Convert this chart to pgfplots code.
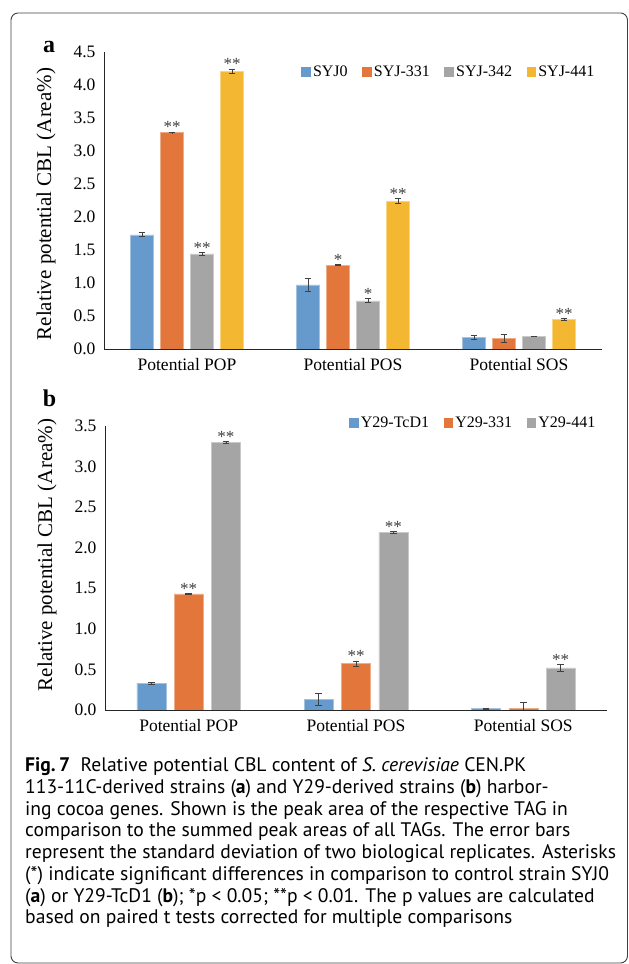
\documentclass[border=0pt]{standalone}
\usepackage{fontspec}
\setmainfont{Liberation Serif}
\newfontfamily\capfont{PT Sans}
\usepackage{pgfplots}
\pgfplotsset{compat=1.18}
\usepackage{pgfplotstable}

\definecolor{cblue}{HTML}{6699CC}
\definecolor{corange}{HTML}{E3763A}
\definecolor{cgray}{HTML}{A5A5A5}
\definecolor{cyellow}{HTML}{F4B731}
\definecolor{errc}{HTML}{404040}

% panel a: CEN.PK strains
\pgfplotstableread{
x y e lab
1 1.73 0.03 {}
2 0.97 0.10 {}
3 0.17 0.03 {}
}\aSYJzero
\pgfplotstableread{
x y e lab
1 3.28 0.005 **
2 1.27 0.005 *
3 0.16 0.06 {}
}\aSYJthree
\pgfplotstableread{
x y e lab
1 1.44 0.02 **
2 0.73 0.03 *
3 0.19 0.005 {}
}\aSYJthreefour
\pgfplotstableread{
x y e lab
1 4.21 0.03 **
2 2.24 0.04 **
3 0.45 0.01 **
}\aSYJfour

% panel b: Y29 strains
\pgfplotstableread{
x y e lab
1 0.33 0.01 {}
2 0.13 0.07 {}
3 0.016 0.005 {}
}\bTcD
\pgfplotstableread{
x y e lab
1 1.43 0.005 **
2 0.57 0.035 **
3 0.016 0.08 {}
}\bthree
\pgfplotstableread{
x y e lab
1 3.30 0.01 **
2 2.19 0.01 **
3 0.52 0.04 **
}\bfour

\pgfplotsset{
  cblaxis/.style={
    ybar, scale only axis, enlargelimits=false,
    xmin=0.5, xmax=3.5, ymin=0,
    axis x line*=bottom, axis y line*=left,
    axis line style={-, black!85, line width=0.9pt},
    xtick={1,2,3},
    xticklabels={Potential POP, Potential POS, Potential SOS},
    major tick length=0pt,
    /pgf/number format/fixed, /pgf/number format/fixed zerofill,
    /pgf/number format/precision=1, /pgf/number format/assume math mode=true,
    ticklabel style={font=\fontsize{17.5}{18}\selectfont},
    yticklabel style={xshift=-5pt},
    xticklabel style={yshift=-6pt},
    ylabel={Relative potential CBL (Area\%)},
    ylabel style={font=\fontsize{21}{22}\selectfont, anchor=center},
    nodes near coords, point meta=explicit symbolic,
    visualization depends on={\thisrow{e} \as \myerr},
    nodes near coords style={font=\fontsize{17}{17}\selectfont, text=errc, inner sep=0pt},
    legend columns=-1,
    legend style={draw=none, fill=none, inner sep=0pt, anchor=east,
      font=\fontsize{16}{16}\selectfont, nodes={inner sep=2.5pt},
      /tikz/every even column/.append style={column sep=12pt}},
  },
  cblbar/.style={fill=#1, draw=#1!60!white, line width=0.6pt,
    legend image code/.code={\fill[#1] (0pt,-4.3pt) rectangle (8.6pt,4.3pt);},
    error bars/.cd, y dir=both, y explicit,
    error bar style={errc, line width=0.8pt},
    error mark options={errc, rotate=90, mark size=3.3pt, line width=0.8pt}},
}

\begin{document}
\begin{tikzpicture}[x=1pt, y=1pt]
\useasboundingbox (0,0) rectangle (629,964);
\draw[black!75, line width=0.9pt, rounded corners=7pt] (11,1) rectangle (627.5,951);

\node[font=\fontsize{24}{24}\selectfont\bfseries] at (49,917) {a};
\node[font=\fontsize{24}{24}\selectfont\bfseries] at (49.5,566) {b};

\begin{axis}[cblaxis,
  at={(104pt,615pt)}, anchor=south west,
  width=498pt, height=297pt,
  ymax=4.5, ytick={0,0.5,...,4.5},
  bar width=23.5pt, ybar=6.5pt,
  every node near coord/.append style={yshift=\myerr*66pt-1pt},
  ylabel style={at={(rel axis cs:-0.1165,0.488)}},
  legend style={at={(0.99,0.933)}},
]
\addplot[cblbar=cblue] table[x=x, y=y, y error=e, meta=lab] {\aSYJzero};
\addplot[cblbar=corange] table[x=x, y=y, y error=e, meta=lab] {\aSYJthree};
\addplot[cblbar=cgray] table[x=x, y=y, y error=e, meta=lab] {\aSYJthreefour};
\addplot[cblbar=cyellow] table[x=x, y=y, y error=e, meta=lab] {\aSYJfour};
\legend{SYJ0, SYJ-331, SYJ-342, SYJ-441}
\end{axis}

\begin{axis}[cblaxis,
  at={(105pt,254pt)}, anchor=south west,
  width=502pt, height=284pt,
  ymax=3.5, ytick={0,0.5,...,3.5},
  bar width=29pt, ybar=8.3pt,
  every node near coord/.append style={yshift=\myerr*81.14pt-1pt},
  ylabel style={at={(rel axis cs:-0.1155,0.546)}},
  legend style={at={(0.982,1.0106)}},
]
\addplot[cblbar=cblue] table[x=x, y=y, y error=e, meta=lab] {\bTcD};
\addplot[cblbar=corange] table[x=x, y=y, y error=e, meta=lab] {\bthree};
\addplot[cblbar=cgray] table[x=x, y=y, y error=e, meta=lab] {\bfour};
\legend{Y29-TcD1, Y29-331, Y29-441}
\end{axis}

\begin{scope}[every node/.style={anchor=base west, inner sep=0pt, font=\capfont\fontsize{19.6}{19.6}\selectfont}]
\node at (25,192) {\textbf{Fig.\,7}\ \ Relative potential CBL content of \textit{S. cerevisiae} CEN.PK};
\node at (25,170.3) {113-11C-derived strains (\textbf{a}) and Y29-derived strains (\textbf{b}) harbor-};
\node at (25,148.6) {ing cocoa genes. Shown is the peak area of the respective TAG in};
\node at (25,127) {comparison to the summed peak areas of all TAGs. The error bars};
\node at (25,105.2) {represent the standard deviation of two biological replicates. Asterisks};
\node at (25,83.5) {(*) indicate significant differences in comparison to control strain SYJ0};
\node at (25,61.8) {(\textbf{a}) or Y29-TcD1 (\textbf{b}); *p < 0.05; **p < 0.01. The p values are calculated};
\node at (25,40) {based on paired t tests corrected for multiple comparisons};
\end{scope}
\end{tikzpicture}
\end{document}
